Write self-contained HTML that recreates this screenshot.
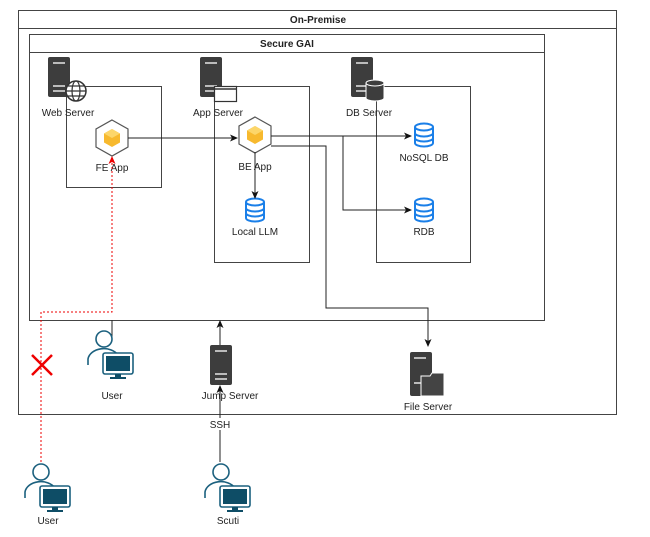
<!DOCTYPE html>
<html><head><style>html,body{margin:0;padding:0;background:#fff}svg{display:block}text{font-family:"Liberation Sans",sans-serif;font-size:10px;fill:#222;text-anchor:middle}</style></head><body>
<svg width="650" height="537" viewBox="0 0 650 537" xmlns="http://www.w3.org/2000/svg">
<defs>
<marker id="a" markerWidth="8" markerHeight="8" refX="7" refY="4" orient="auto" markerUnits="userSpaceOnUse"><path d="M0,0.5 L8,4 L0,7.5 L2,4z" fill="#111"/></marker>
<marker id="r" markerWidth="8" markerHeight="8" refX="7" refY="4" orient="auto" markerUnits="userSpaceOnUse"><path d="M0,0.5 L8,4 L0,7.5 L2,4z" fill="#e00"/></marker>
<g id="srv"><rect x="0" y="0" width="22" height="40" rx="2" fill="#3d3d3d"/><rect x="5" y="5" width="12" height="2" fill="#bbb"/><rect x="5" y="28" width="12" height="2" fill="#bbb"/><rect x="5" y="33" width="12" height="2" fill="#bbb"/></g>
<g id="hex"><path d="M0,-18 L16,-9 L16,9 L0,18 L-16,9 L-16,-9z" fill="#fff" stroke="#555" stroke-width="1.2"/><path d="M0,-9 L8,-4.5 L8,4.5 L0,9 L-8,4.5 L-8,-4.5z" fill="#f7b92e"/><path d="M0,-9 L8,-4.5 L0,0 L-8,-4.5z" fill="#fcd66a"/></g>
<g id="db" fill="none" stroke="#1a7fe8" stroke-width="2"><ellipse cx="0" cy="-8" rx="9" ry="3.5"/><path d="M-9,-8 V8 A9,3.5 0 0 0 9,8 V-8"/><path d="M-9,-2 A9,3.5 0 0 0 9,-2 M-9,3 A9,3.5 0 0 0 9,3"/></g>
<g id="usr"><circle cx="0" cy="-14" r="8" fill="#fff" stroke="#1b607e" stroke-width="1.6"/><path d="M-16,12 V6 A16,12 0 0 1 14,2" fill="#fff" stroke="#1b607e" stroke-width="1.6"/><rect x="-1" y="0" width="30" height="21" rx="2" fill="#fff" stroke="#1b607e" stroke-width="1.6"/><rect x="2" y="3" width="24" height="15" fill="#0e4d66"/><rect x="11" y="21" width="6" height="3" fill="#0e4d66"/><rect x="6" y="24" width="16" height="2" fill="#0e4d66"/></g>
</defs>
<rect x="18.5" y="10.5" width="598" height="404" fill="none" stroke="#444"/>
<line x1="18" y1="28.5" x2="617" y2="28.5" stroke="#444"/>
<text x="318" y="23" font-weight="bold">On-Premise</text>
<rect x="29.5" y="34.5" width="515" height="286" fill="none" stroke="#444"/>
<line x1="29" y1="52.5" x2="545" y2="52.5" stroke="#444"/>
<text x="287" y="47" font-weight="bold">Secure GAI</text>
<rect x="66.5" y="86.5" width="95" height="101" fill="none" stroke="#444"/>
<rect x="214.5" y="86.5" width="95" height="176" fill="none" stroke="#444"/>
<rect x="376.5" y="86.5" width="94" height="176" fill="none" stroke="#444"/>
<use href="#srv" x="48" y="57"/>
<circle cx="76" cy="91" r="10" fill="#fff" stroke="#333" stroke-width="1.5"/><ellipse cx="76" cy="91" rx="4" ry="10" fill="none" stroke="#333" stroke-width="1.2"/><path d="M66,91 H86 M68,86 H84 M68,96 H84" stroke="#333" stroke-width="1.2"/>
<text x="68" y="116">Web Server</text>
<use href="#srv" x="200" y="57"/>
<rect x="214.5" y="86.5" width="22" height="15" fill="#fff" stroke="#333" stroke-width="1.2"/><line x1="215" y1="89" x2="236" y2="89" stroke="#333" stroke-width="1.5"/>
<text x="218" y="116">App Server</text>
<use href="#srv" x="351" y="57"/>
<path d="M366,83 V98 A9,3 0 0 0 384,98 V83" fill="#3d3d3d" stroke="#fff" stroke-width="1"/><ellipse cx="375" cy="83" rx="9" ry="3" fill="#3d3d3d" stroke="#fff"/>
<text x="369" y="116">DB Server</text>
<use href="#hex" x="112" y="138"/><text x="112" y="171">FE App</text>
<use href="#hex" x="255" y="135"/><text x="255" y="170">BE App</text>
<use href="#db" x="255" y="210"/><text x="255" y="235">Local LLM</text>
<use href="#db" x="424" y="135"/><text x="424" y="161">NoSQL DB</text>
<use href="#db" x="424" y="210"/><text x="424" y="235">RDB</text>
<g fill="none" stroke="#222" stroke-width="1">
<line x1="128" y1="138" x2="237" y2="138" marker-end="url(#a)"/>
<line x1="271" y1="136" x2="411" y2="136" marker-end="url(#a)"/>
<polyline points="343,136 343,210 411,210" marker-end="url(#a)"/>
<line x1="255" y1="152" x2="255" y2="198" marker-end="url(#a)"/>
<polyline points="271,146 326,146 326,308 428,308 428,346" marker-end="url(#a)"/>
<line x1="112" y1="338" x2="112" y2="320"/>
<line x1="220" y1="345" x2="220" y2="321" marker-end="url(#a)"/>
<line x1="220" y1="462" x2="220" y2="386" marker-end="url(#a)"/>
</g>
<polyline points="41,462 41,312 112,312 112,157" fill="none" stroke="#e00" stroke-width="1" stroke-dasharray="2,2" marker-end="url(#r)"/>
<path d="M32,355 L52,375 M52,355 L32,375" stroke="#e00" stroke-width="2.5"/>
<use href="#usr" x="104" y="353"/><text x="112" y="399">User</text>
<use href="#srv" x="210" y="345"/><text x="230" y="399">Jump Server</text>
<rect x="211" y="418" width="20" height="12" fill="#fff"/><text x="220" y="428" font-size="9">SSH</text>
<g><rect x="410" y="352" width="22" height="44" rx="2" fill="#3d3d3d"/><rect x="414" y="357" width="12" height="2" fill="#bbb"/><rect x="414" y="382" width="8" height="2" fill="#bbb"/><path d="M421,376 H430 L432,373 H444 V396 H421z" fill="#444" stroke="#fff"/></g>
<text x="428" y="410">File Server</text>
<use href="#usr" x="41" y="486"/><text x="48" y="524">User</text>
<use href="#usr" x="221" y="486"/><text x="228" y="524">Scuti</text>
</svg>
</body></html>
